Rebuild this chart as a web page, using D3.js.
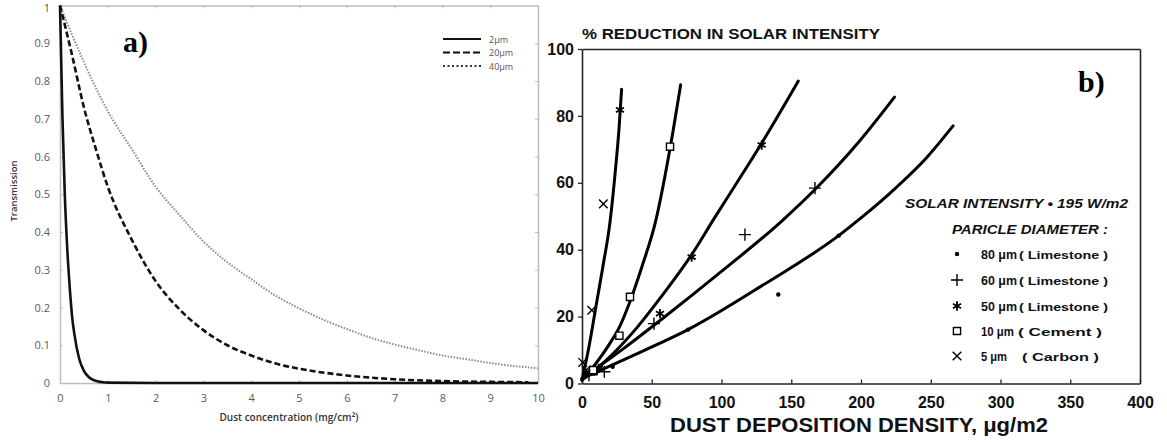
<!DOCTYPE html>
<html>
<head>
<meta charset="utf-8">
<script src="https://cdn.jsdelivr.net/npm/d3@7"></script>
<style>
  body { margin: 0; background: #fff; }
  svg { display: block; }
</style>
</head>
<body>
<svg id="fig" width="1167" height="442"></svg>
<script>
// ---------- Panel a: transmission vs dust concentration ----------
const aXTicks = [0, 1, 2, 3, 4, 5, 6, 7, 8, 9, 10];
const aYTicks = [0, 0.1, 0.2, 0.3, 0.4, 0.5, 0.6, 0.7, 0.8, 0.9, 1];
const aYLabels = ["0", "0.1", "0.2", "0.3", "0.4", "0.5", "0.6", "0.7", "0.8", "0.9", "1"];
const aLegend = ["2μm", "20μm", "40μm"];

const conc2 = [0, 0.05, 0.1, 0.15, 0.2, 0.25, 0.3, 0.4, 0.5, 0.6, 0.7, 0.8, 0.9, 1.0, 2, 4, 6, 8, 10];
const trans2 = [1, 0.71, 0.50, 0.36, 0.26, 0.18, 0.13, 0.065, 0.032, 0.016, 0.008, 0.004, 0.002, 0.001, 0, 0, 0, 0, 0];

const conc20 = [0, 0.25, 0.5, 0.75, 1, 1.5, 2, 2.5, 3, 3.5, 4, 4.5, 5, 6, 7, 8, 9, 9.8];
const trans20 = [1, 0.87, 0.73, 0.62, 0.52, 0.38, 0.27, 0.195, 0.14, 0.10, 0.073, 0.052, 0.038, 0.02, 0.01, 0.005, 0.003, 0.002];

const conc40 = [0, 0.5, 1, 1.5, 2, 2.5, 3, 3.5, 4, 4.5, 5, 5.5, 6, 6.5, 7, 7.5, 8, 8.5, 9, 9.5, 10];
const trans40 = [1, 0.85, 0.72, 0.62, 0.52, 0.445, 0.375, 0.32, 0.275, 0.232, 0.198, 0.168, 0.143, 0.12, 0.102, 0.087, 0.073, 0.063, 0.053, 0.045, 0.039];

// ---------- Panel b: % reduction in solar intensity vs deposition ----------
const bXTicks = [0, 50, 100, 150, 200, 250, 300, 350, 400];
const bYTicks = [0, 20, 40, 60, 80, 100];

const dens80 = [0, 40, 76, 130, 184, 200, 225, 247, 266];
const red80  = [1.5, 9, 16.1, 29.5, 44.2, 49.5, 58.5, 67.5, 77];
const dens60 = [0, 30, 58, 100, 143, 167, 199, 224];
const red60  = [1.5, 10.5, 19.5, 33.5, 48.5, 58, 72.5, 85.6];
const dens50 = [0, 20, 40, 56, 78.6, 95, 111, 129, 155];
const red50  = [1, 8, 17, 25.5, 38.5, 49.5, 60, 72, 90.4];
const dens10 = [0, 10, 20, 27, 34.4, 43, 52.5, 63, 70.7];
const red10  = [1, 6, 12, 17, 24.5, 35, 48, 70, 89.3];
const dens5  = [0, 5, 10, 15, 20, 24, 26.5, 28.4];
const red5   = [1, 11, 23, 35, 48, 64, 76, 88];

const pts80 = [[76, 16.1], [140.7, 26.6], [184, 44.2], [10, 3], [22, 5]];
const pts60 = [[51.6, 17.9], [116.8, 44.5], [167, 58.4], [5, 2.5], [16, 3.5]];
const pts50 = [[27.2, 81.8], [55.9, 20.9], [78.6, 37.8], [128.8, 71.3], [3, 3], [12, 4.5]];
const pts10 = [[26.8, 14.3], [34.4, 25.9], [63.1, 70.8], [8, 4]];
const pts5  = [[7, 21.9], [15.3, 53.7], [0.5, 6.3], [3, 4]];

const sizeLabels = ["80 μm", "60 μm", "50 μm", "10 μm", "5 μm"];
const materials = ["( Limestone )", "( Limestone )", "( Limestone )", "( Cement )", "( Carbon )"];

const svg = d3.select("#fig");
svg.append("rect").attr("width", 1167).attr("height", 442).attr("fill", "#fff");

// ===== Panel a =====
const xA = d3.scaleLinear().domain([0, 10]).range([60, 538]);
const yA = d3.scaleLinear().domain([0, 1]).range([383, 5.5]);
const gA = svg.append("g");
const aFont = "'Open Sans', 'Noto Sans', sans-serif";

function styleA(sel) {
  sel.select(".domain").attr("stroke", "#bdbdbd").attr("stroke-width", 1.5);
  sel.selectAll(".tick line").attr("stroke", "#bdbdbd");
  sel.selectAll(".tick text").attr("fill", "#5a5a5a").style("font-family", aFont).style("font-size", "11px");
}
gA.append("g").attr("transform", "translate(0,5.5)")
  .call(d3.axisTop(xA).tickValues(aXTicks).tickSizeInner(-3).tickSizeOuter(0).tickFormat(""))
  .call(styleA);
gA.append("g").attr("transform", "translate(538,0)")
  .call(d3.axisRight(yA).tickValues(aYTicks).tickSizeInner(-3).tickSizeOuter(0).tickFormat(""))
  .call(styleA);
gA.append("g").attr("transform", "translate(0,383)")
  .call(d3.axisBottom(xA).tickValues(aXTicks).tickSizeInner(-3).tickSizeOuter(0).tickPadding(11).tickFormat(d3.format("d")))
  .call(styleA);
gA.append("g").attr("transform", "translate(60,0)")
  .call(d3.axisLeft(yA).tickValues(aYTicks).tickSizeInner(-3).tickSizeOuter(0).tickPadding(10)
    .tickFormat((d, i) => aYLabels[i]))
  .call(styleA)
  .call(g => g.selectAll(".tick text").filter(d => d === 1).attr("dy", "0.55em"));

const lineA = d3.line().x(d => xA(d[0])).y(d => yA(d[1])).curve(d3.curveMonotoneX);
const seriesA = [
  { x: conc40, y: trans40, stroke: "#8a8a8a", width: 2, dash: "1.5,1.5" },
  { x: conc20, y: trans20, stroke: "#111", width: 2.6, dash: "6,3" },
  { x: conc2,  y: trans2,  stroke: "#111", width: 2.6, dash: null }
];
seriesA.forEach(s => {
  gA.append("path")
    .datum(s.x.map((v, i) => [v, s.y[i]]))
    .attr("d", lineA)
    .attr("fill", "none")
    .attr("stroke", s.stroke)
    .attr("stroke-width", s.width)
    .attr("stroke-dasharray", s.dash);
});

// legend
const legStyles = [
  { stroke: "#111", width: 2.2, dash: null },
  { stroke: "#111", width: 2.2, dash: "7,3" },
  { stroke: "#333", width: 2, dash: "2,2.5" }
];
aLegend.forEach((t, i) => {
  const y = 39 + i * 13.5;
  gA.append("line").attr("x1", 443).attr("x2", 481).attr("y1", y).attr("y2", y)
    .attr("stroke", legStyles[i].stroke).attr("stroke-width", legStyles[i].width)
    .attr("stroke-dasharray", legStyles[i].dash);
  gA.append("text").attr("x", 489).attr("y", y + 3.5).text(t)
    .attr("fill", "#555").style("font-family", aFont).style("font-size", "9px");
});

gA.append("text").attr("x", 289).attr("y", 421).attr("text-anchor", "middle")
  .text("Dust concentration (mg/cm²)")
  .attr("fill", "#333").style("font-family", aFont).style("font-size", "10px").style("font-weight", 600);
gA.append("text").attr("transform", "translate(17,191) rotate(-90)").attr("text-anchor", "middle")
  .text("Transmission")
  .attr("fill", "#333").style("font-family", aFont).style("font-size", "9.5px").style("font-weight", 600);
gA.append("text").attr("x", 123).attr("y", 52).text("a)")
  .attr("fill", "#000").style("font-family", "'Liberation Serif', serif").style("font-size", "30px").style("font-weight", 700);

// ===== Panel b =====
const xB = d3.scaleLinear().domain([0, 400]).range([582, 1140]);
const yB = d3.scaleLinear().domain([0, 100]).range([383.5, 49]);
const gB = svg.append("g");
const bFont = "'Liberation Sans', Arial, sans-serif";

function styleB(sel) {
  sel.select(".domain").attr("stroke", "#222").attr("stroke-width", 1.6);
  sel.selectAll(".tick line").attr("stroke", "#222").attr("stroke-width", 1.3);
  sel.selectAll(".tick text").attr("fill", "#111").style("font-family", bFont)
    .style("font-size", "16px").style("font-weight", 700);
}
gB.append("g").attr("transform", "translate(0,49)")
  .call(d3.axisTop(xB).tickValues([]).tickSizeOuter(0)).call(styleB);
gB.append("g").attr("transform", "translate(1140,0)")
  .call(d3.axisRight(yB).tickValues([]).tickSizeOuter(0)).call(styleB);
gB.append("g").attr("transform", "translate(0,383.5)")
  .call(d3.axisBottom(xB).tickValues(bXTicks).tickSizeInner(-4).tickSizeOuter(0).tickPadding(13).tickFormat(d3.format("d")))
  .call(styleB);
gB.append("g").attr("transform", "translate(582,0)")
  .call(d3.axisLeft(yB).tickValues(bYTicks).tickSizeInner(4).tickSizeOuter(0).tickPadding(4).tickFormat(d3.format("d")))
  .call(styleB);

const lineB = d3.line().x(d => xB(d[0])).y(d => yB(d[1])).curve(d3.curveMonotoneX);
[[dens80, red80], [dens60, red60], [dens50, red50], [dens10, red10], [dens5, red5]].forEach(([xs, ys]) => {
  gB.append("path")
    .datum(xs.map((v, i) => [v, ys[i]]))
    .attr("d", lineB)
    .attr("fill", "none")
    .attr("stroke", "#000")
    .attr("stroke-width", 3)
    .attr("stroke-linecap", "round");
});

// marker drawing
const symbols = [
  null,
  d3.symbol().type(d3.symbolPlus).size(50),
  d3.symbol().type(d3.symbolAsterisk).size(60),
  d3.symbol().type(d3.symbolSquare2).size(65),
  d3.symbol().type(d3.symbolTimes).size(50)
];
function drawMarker(g, k, cx, cy) {
  if (k === 0) {
    g.append("circle").attr("cx", cx).attr("cy", cy).attr("r", 2.2).attr("fill", "#000");
  } else {
    g.append("path").attr("d", symbols[k]())
      .attr("transform", `translate(${cx},${cy})`)
      .attr("fill", k === 3 ? "#fff" : "none")
      .attr("stroke", "#000").attr("stroke-width", k === 2 ? 1.8 : 1.4);
  }
}
[pts80, pts60, pts50, pts10, pts5].forEach((pts, k) => {
  pts.forEach(p => drawMarker(gB, k, xB(p[0]), yB(p[1])));
});

// titles
gB.append("text").attr("x", 582).attr("y", 38.5).text("% REDUCTION IN SOLAR INTENSITY")
  .attr("textLength", 298).attr("lengthAdjust", "spacingAndGlyphs")
  .attr("fill", "#111").style("font-family", bFont).style("font-size", "15px").style("font-weight", 700);
gB.append("text").attr("x", 670).attr("y", 432).text("DUST DEPOSITION DENSITY, μg/m2")
  .attr("textLength", 378).attr("lengthAdjust", "spacingAndGlyphs")
  .attr("fill", "#111").style("font-family", bFont).style("font-size", "21px").style("font-weight", 700);
gB.append("text").attr("x", 1078).attr("y", 92).text("b)")
  .attr("fill", "#000").style("font-family", "'Liberation Serif', serif").style("font-size", "30px").style("font-weight", 700);

// legend block
gB.append("text").attr("x", 905).attr("y", 207.5).text("SOLAR INTENSITY • 195 W/m2")
  .attr("textLength", 223).attr("lengthAdjust", "spacingAndGlyphs")
  .attr("fill", "#111").style("font-family", bFont).style("font-size", "12.5px")
  .style("font-weight", 700).style("font-style", "italic");
gB.append("text").attr("x", 952).attr("y", 233.5).text("PARICLE DIAMETER :")
  .attr("textLength", 156).attr("lengthAdjust", "spacingAndGlyphs")
  .attr("fill", "#111").style("font-family", bFont).style("font-size", "12.5px")
  .style("font-weight", 700).style("font-style", "italic");

const rowY = [254, 280, 306, 331, 356];
const sizeW = [36, 36, 36, 33, 26];
const matX = [1019, 1019, 1019, 1018, 1022];
const matW = [89, 89, 89, 84, 77];
sizeLabels.forEach((t, i) => {
  drawMarker(gB, i, 957, rowY[i]);
  gB.append("text").attr("x", 981).attr("y", rowY[i] + 4.5).text(t)
    .attr("textLength", sizeW[i]).attr("lengthAdjust", "spacingAndGlyphs")
    .attr("fill", "#111").style("font-family", bFont).style("font-size", "12.5px").style("font-weight", 700);
  gB.append("text").attr("x", matX[i]).attr("y", rowY[i] + 4.5).text(materials[i])
    .attr("textLength", matW[i]).attr("lengthAdjust", "spacingAndGlyphs")
    .attr("fill", "#111").style("font-family", bFont).style("font-size", "11.5px").style("font-weight", 700);
});
</script>
</body>
</html>
